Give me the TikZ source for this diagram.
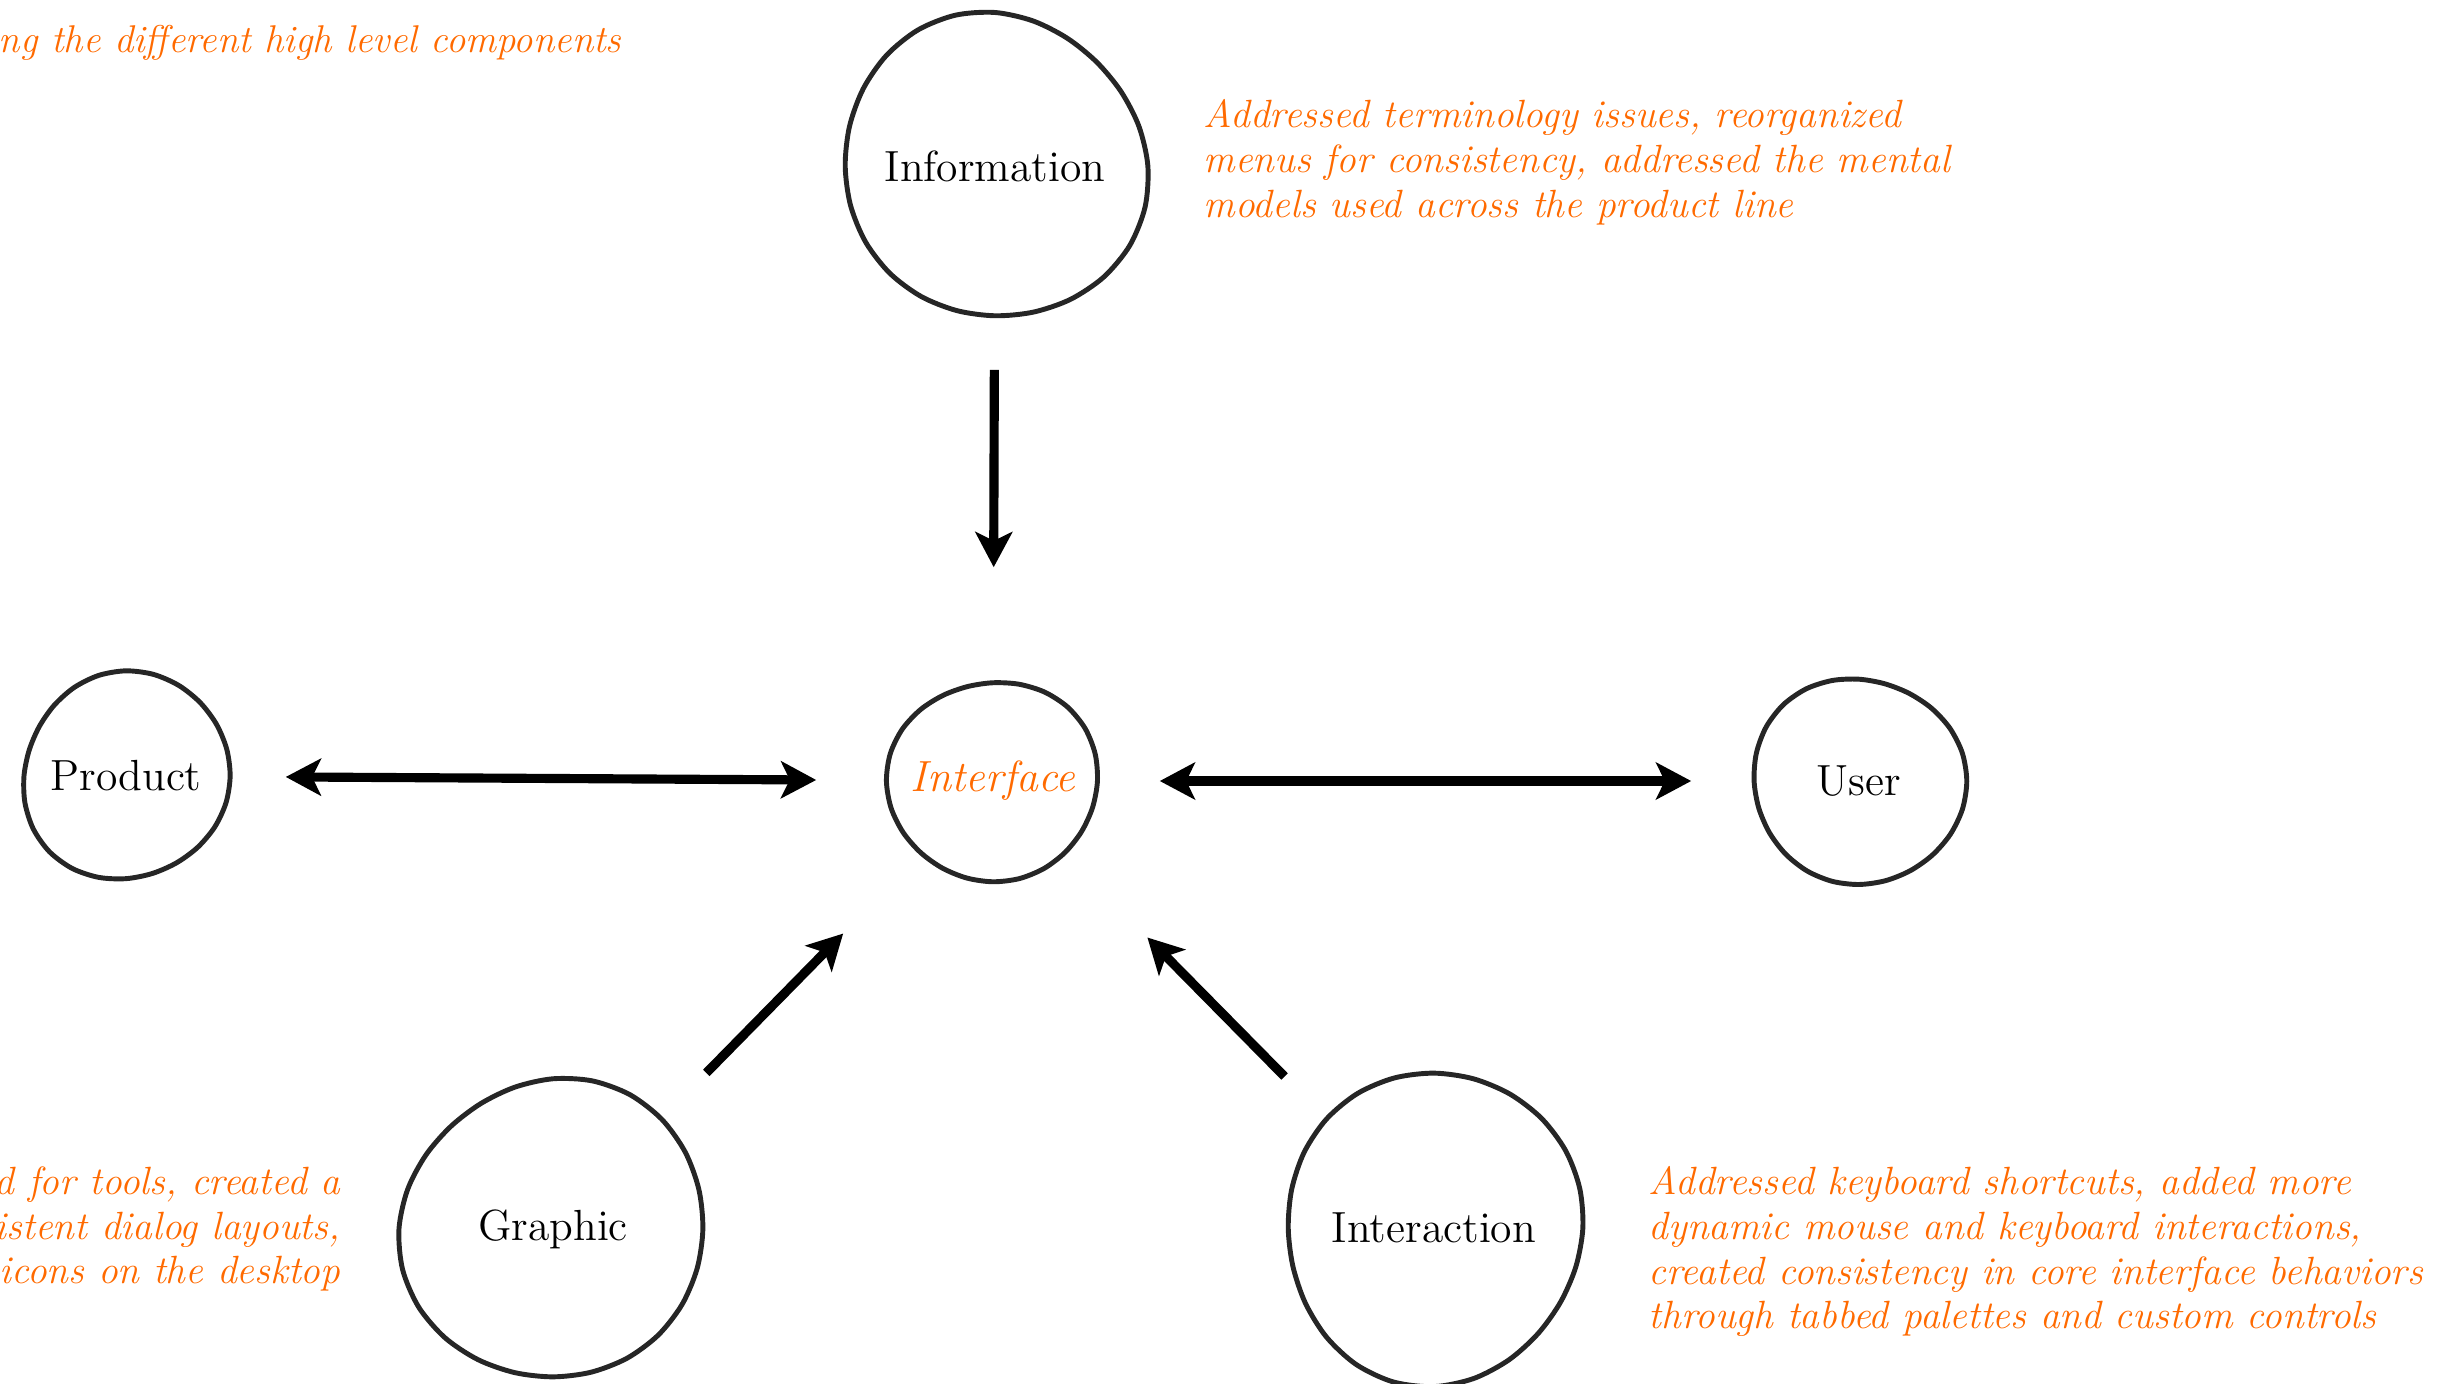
\documentclass[tikz,border=0pt]{standalone}
\usetikzlibrary{arrows.meta,calc}

\definecolor{note}{RGB}{255,106,0}
\definecolor{ink}{RGB}{38,38,38}

\tikzset{
  concept/.style={circle, inner sep=0pt, font=\fontsize{12.4}{14}\selectfont},
  remark/.style={text=note, inner sep=0pt, font=\fontsize{11.2}{12.7}\selectfont\itshape},
  outline/.style={draw=ink, line width=1.4pt, line join=round},
  tip/.tip={Stealth[length=10pt,width=10.5pt,inset=2.5pt]},
  link/.style={line width=2.6pt, -tip},
  twoway/.style={line width=2.6pt, tip-tip},
}

% hand-drawn ring around a node: node name, x radius, y radius, phase
\newcommand\sketchring[4]{%
  \draw[outline, shift={(#1.center)}]
    plot[smooth cycle, domain=0:345, samples=24, variable=\t]
    ({#2*(1+0.026*sin(2*\t+#4)+0.016*sin(3*\t+2*#4))*cos(\t)},
     {#3*(1+0.026*sin(2*\t+#4)+0.016*sin(3*\t+2*#4))*sin(\t)});
}

\begin{document}
\begin{tikzpicture}[x=0.01cm, y=-0.01cm]
  \useasboundingbox (0,0) rectangle (2456,1384);
  \clip (0,0) rectangle (2456,1384);

  % concepts
  \node[concept, minimum size=3.02cm] (info) at (995,166) {Information};
  \node[concept, minimum size=2.06cm, text=note,
        font=\fontsize{12.4}{14}\selectfont\itshape] (iface) at (993,781) {Interface};
  \node[concept, minimum size=2.08cm] (product) at (126,776) {Product};
  \node[concept, minimum size=2.08cm] (user) at (1859,781) {User};
  \node[concept, minimum size=3.00cm] (graphic) at (553,1229) {Graphic};
  \node[concept, minimum size=3.02cm] (interaction) at (1434,1228) {Interaction};

  \sketchring{info}{150}{153}{20}
  \sketchring{iface}{103}{102}{110}
  \sketchring{product}{104}{103}{200}
  \sketchring{user}{104}{105}{60}
  \sketchring{graphic}{150}{151}{150}
  \sketchring{interaction}{151}{153}{250}

  % connectors
  \draw[link, shorten <=0.52cm, shorten >=1.1cm] (info) -- (iface);
  \draw[twoway, shorten <=0.55cm, shorten >=0.73cm] (product) -- (iface);
  \draw[twoway, shorten <=0.63cm, shorten >=0.63cm] (iface) -- (user);
  \draw[link, shorten <=0.68cm, shorten >=1.1cm] (graphic) -- (iface);
  \draw[link, shorten <=0.61cm, shorten >=1.16cm] (interaction) -- (iface);

  % notes
  \node[remark, anchor=base east, font=\fontsize{11}{12.7}\selectfont\itshape] (lead) at (622,52)
    {ng the different high level components};
  \node[remark, anchor=north west, align=left] (infonote) at (1203,99)
    {Addressed terminology issues, reorganized\\
     menus for consistency, addressed the mental\\
     models used across the product line};
  \node[remark, anchor=north east, align=right] (graphnote) at (341,1166)
    {d for tools, created a\\
     istent dialog layouts,\\
     icons on the desktop};
  \node[remark, anchor=north west, align=left] (internote) at (1648,1166)
    {Addressed keyboard shortcuts, added more\\
     dynamic mouse and keyboard interactions,\\
     created consistency in core interface behaviors\\
     through tabbed palettes and custom controls};
\end{tikzpicture}
\end{document}
